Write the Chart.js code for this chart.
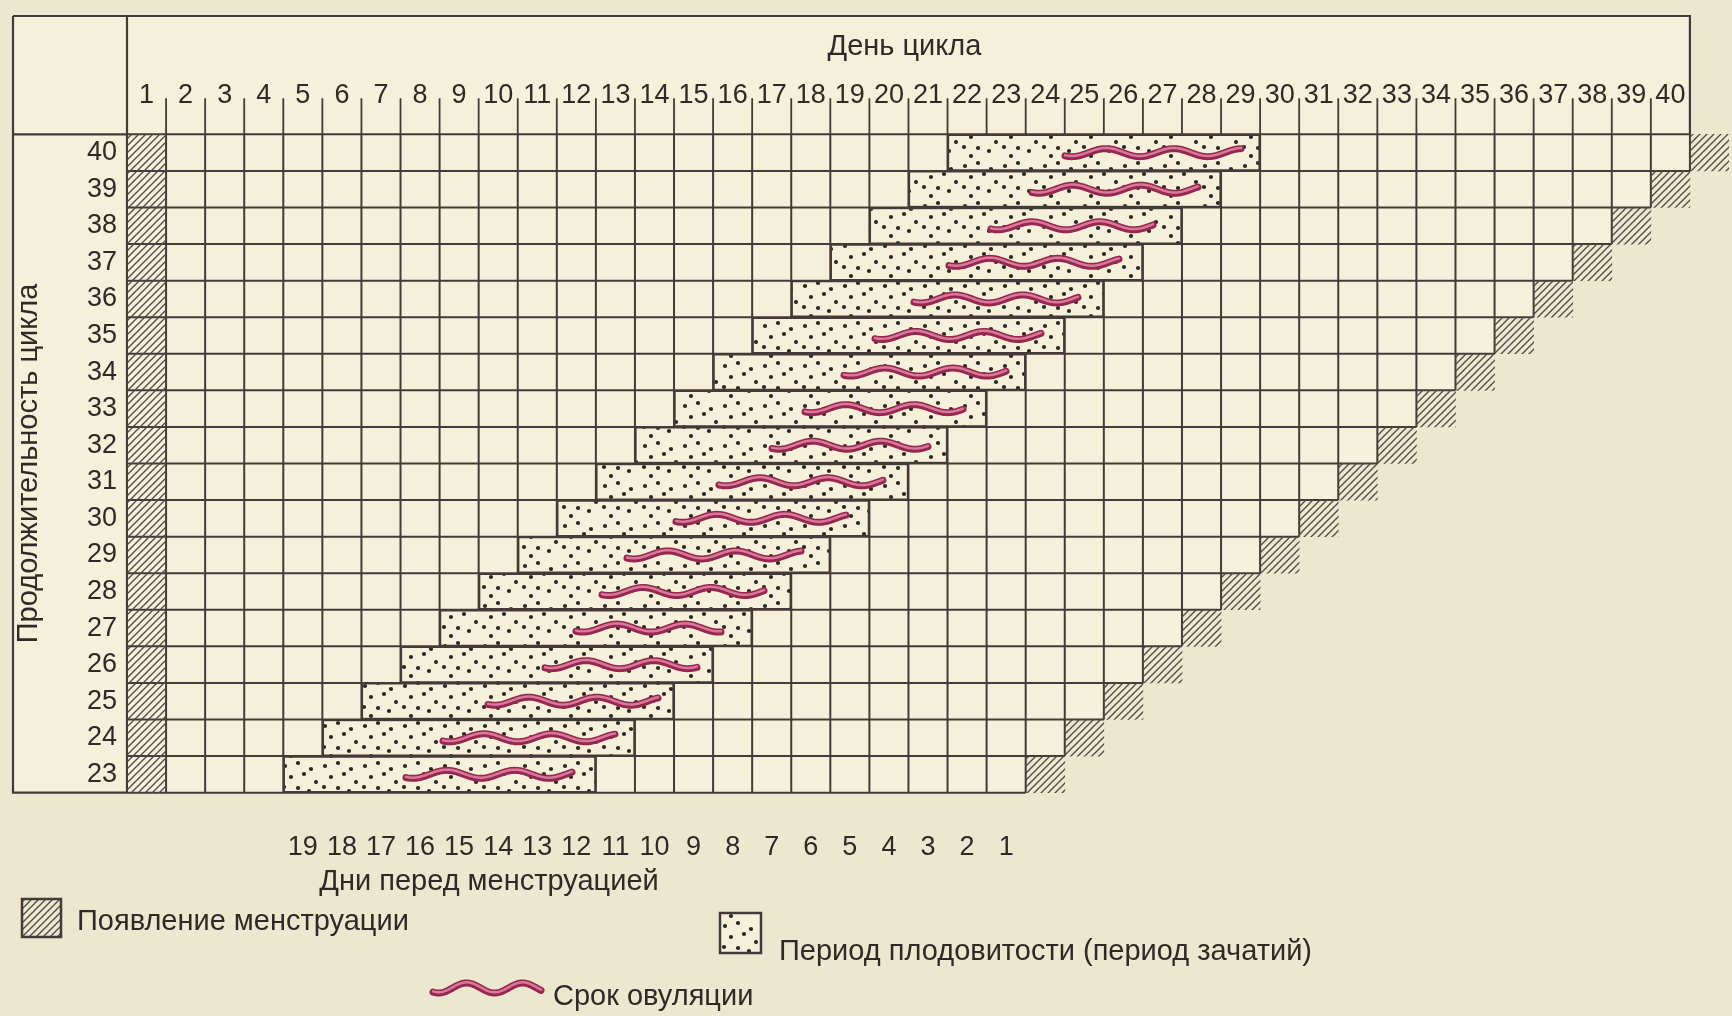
<!DOCTYPE html>
<html>
<head>
<meta charset="utf-8">
<script src="https://cdn.jsdelivr.net/npm/chart.js@4.4.1/dist/chart.umd.min.js"></script>
<style>
  html, body { margin: 0; padding: 0; background: #ece8cf; }
  canvas { display: block; }
</style>
</head>
<body>
<canvas id="chart" width="1732" height="1016"></canvas>
<script>
// rows: cycle length, bottom to top
const cycleLengths = [23, 24, 25, 26, 27, 28, 29, 30, 31, 32, 33, 34, 35, 36, 37, 38, 39, 40];
// header: day of cycle
const cycleDays = [1, 2, 3, 4, 5, 6, 7, 8, 9, 10, 11, 12, 13, 14, 15, 16, 17, 18, 19, 20,
                   21, 22, 23, 24, 25, 26, 27, 28, 29, 30, 31, 32, 33, 34, 35, 36, 37, 38, 39, 40];
// fertile period (first / last day of the dotted block), per row
const fertileStart = [5, 6, 7, 8, 9, 10, 11, 12, 13, 14, 15, 16, 17, 18, 19, 20, 21, 22];
const fertileEnd = [12, 13, 14, 15, 16, 17, 18, 19, 20, 21, 22, 23, 24, 25, 26, 27, 28, 29];
// ovulation wave (day units, day centre = integer)
const ovulationStart = [7.65, 8.6, 9.75, 11.2, 12.0, 12.65, 13.3, 14.55, 15.65, 17.0, 17.85, 18.85, 19.65, 20.65, 21.55, 22.6, 23.65, 24.5];
const ovulationEnd = [11.9, 13.0, 14.1, 15.1, 15.7, 16.8, 17.75, 18.9, 19.85, 21.0, 21.9, 23.0, 23.9, 24.85, 25.9, 26.75, 27.9, 29.0];
// menstruation: day 1 and the day after the cycle ends
const firstDay = [1, 1, 1, 1, 1, 1, 1, 1, 1, 1, 1, 1, 1, 1, 1, 1, 1, 1];
const nextPeriodDay = [24, 25, 26, 27, 28, 29, 30, 31, 32, 33, 34, 35, 36, 37, 38, 39, 40, 41];
// bottom axis: days before menstruation, under these columns
const daysBefore = [19, 18, 17, 16, 15, 14, 13, 12, 11, 10, 9, 8, 7, 6, 5, 4, 3, 2, 1];
const daysBeforeColumns = [5, 6, 7, 8, 9, 10, 11, 12, 13, 14, 15, 16, 17, 18, 19, 20, 21, 22, 23];

const INK = '#2f2927';
const LINE = '#45393a';
const PAPER = '#ece8cf';
const CELL = '#f4f0d9';
const FONT = '"Liberation Sans", Arial, sans-serif';

const canvas = document.getElementById('chart');
const ctx = canvas.getContext('2d');

function makeHatch() {
    const c = document.createElement('canvas');
    c.width = 7; c.height = 7;
    const g = c.getContext('2d');
    g.strokeStyle = '#4f4946';
    g.lineWidth = 1.3;
    g.beginPath();
    g.moveTo(0, 7); g.lineTo(7, 0);
    g.moveTo(-1, 1); g.lineTo(1, -1);
    g.moveTo(6, 8); g.lineTo(8, 6);
    g.stroke();
    return ctx.createPattern(c, 'repeat');
}

function makeDots() {
    const c = document.createElement('canvas');
    c.width = 40; c.height = 40;
    const g = c.getContext('2d');
    g.fillStyle = CELL;
    g.fillRect(0, 0, 40, 40);
    g.fillStyle = '#2b2624';
    const spots = [[5, 6], [18, 3], [31, 9], [11, 17], [24, 14], [36, 22], [4, 27], [18, 28], [29, 31], [11, 36]];
    spots.forEach(([x, y]) => {
        g.beginPath();
        g.arc(x, y, 2.1, 0, Math.PI * 2);
        g.fill();
    });
    return ctx.createPattern(c, 'repeat');
}

const hatch = makeHatch();
const dots = makeDots();

function wavePath(g, x0, x1, yc, amp, len) {
    g.beginPath();
    for (let x = x0; x <= x1; x += 1) {
        const y = yc + amp * Math.sin((x - x0) / len * Math.PI * 2 + Math.PI * 0.3);
        if (x === x0) g.moveTo(x, y); else g.lineTo(x, y);
    }
}

function drawWave(g, x0, x1, yc, amp, len) {
    g.save();
    g.lineCap = 'round';
    g.lineJoin = 'round';
    wavePath(g, x0, x1, yc, amp, len);
    g.strokeStyle = '#96284f';
    g.lineWidth = 7;
    g.stroke();
    wavePath(g, x0, x1, yc - 0.7, amp, len);
    g.strokeStyle = '#d9789a';
    g.lineWidth = 2.5;
    g.stroke();
    g.restore();
}

const tableArt = {
    id: 'tableArt',
    beforeDraw(chart) {
        const g = chart.ctx;
        const { x, y } = chart.scales;
        g.save();
        g.fillStyle = PAPER;
        g.fillRect(0, 0, chart.width, chart.height);

        const left = 13, top = 16;
        const colL = x.getPixelForValue(0.5);
        const colR = x.getPixelForValue(40.5);
        const gridTop = y.getPixelForValue(40.5);
        const gridBot = y.getPixelForValue(22.5);
        g.fillStyle = CELL;
        g.fillRect(left, top, colR - left, gridTop - top);
        g.fillRect(left, top, colL - left, gridBot - top);

        g.strokeStyle = LINE;
        g.lineWidth = 2.2;
        g.beginPath();
        g.moveTo(left, top); g.lineTo(colR, top); g.lineTo(colR, gridTop);
        g.moveTo(left, top); g.lineTo(left, gridBot); g.lineTo(colL, gridBot);
        g.moveTo(colL, top); g.lineTo(colL, gridBot);
        g.moveTo(left, gridTop); g.lineTo(colL, gridTop);
        g.stroke();

        // separators between the day numbers in the header
        g.lineWidth = 1.8;
        g.beginPath();
        cycleDays.slice(0, -1).forEach(d => {
            const px = x.getPixelForValue(d + 0.5);
            g.moveTo(px, gridTop - 36);
            g.lineTo(px, gridTop);
        });
        g.stroke();
        g.restore();
    },
    afterDatasetDraw(chart, args) {
        const g = chart.ctx;
        const { x, y } = chart.scales;
        if (args.index === 0) {
            // cell grid of every row
            g.save();
            g.strokeStyle = LINE;
            g.lineWidth = 2;
            g.beginPath();
            cycleLengths.forEach(L => {
                const yt = y.getPixelForValue(L + 0.5);
                const yb = y.getPixelForValue(L - 0.5);
                const xr = x.getPixelForValue(L + 0.5);
                g.moveTo(x.getPixelForValue(0.5), yt); g.lineTo(xr, yt);
                g.moveTo(x.getPixelForValue(0.5), yb); g.lineTo(xr, yb);
                for (let d = 0; d <= L; d++) {
                    const px = x.getPixelForValue(d + 0.5);
                    g.moveTo(px, yt); g.lineTo(px, yb);
                }
            });
            g.stroke();
            g.restore();
        }
        if (args.index === 4) {
            args.meta.data.forEach(el => {
                const x0 = Math.min(el.x, el.base);
                const x1 = Math.max(el.x, el.base);
                drawWave(g, Math.round(x0), Math.round(x1), el.y, 4, 68);
            });
        }
    },
    afterDraw(chart) {
        const g = chart.ctx;
        const { x } = chart.scales;
        g.save();
        g.fillStyle = INK;
        g.font = '29px ' + FONT;
        g.textBaseline = 'middle';
        g.textAlign = 'center';
        g.fillText('День цикла', x.getPixelForValue(20.5) - 4, 47);
        g.fillText('Дни перед менструацией', 489, 882);

        // legend
        g.textAlign = 'left';
        g.lineWidth = 2.5;
        g.strokeStyle = LINE;
        g.fillStyle = PAPER;
        g.fillRect(22, 899, 39, 38);
        g.fillStyle = hatch;
        g.fillRect(22, 899, 39, 38);
        g.strokeRect(22, 899, 39, 38);
        g.fillStyle = dots;
        g.fillRect(720, 913, 41, 40);
        g.strokeRect(720, 913, 41, 40);
        drawWave(g, 433, 541, 988, 5, 56);

        g.fillStyle = INK;
        g.fillText('Появление менструации', 77, 922);
        g.fillText('Период плодовитости (период зачатий)', 779, 952);
        g.fillText('Срок овуляции', 553, 997);
        g.restore();
    }
};

const tickFont = { family: FONT, size: 27 };

new Chart(ctx, {
    type: 'bar',
    data: {
        datasets: [
            {
                label: 'rows',
                data: cycleLengths.map(L => ({ x: [0.5, L + 0.5], y: L })),
                backgroundColor: CELL,
                borderWidth: 0,
                order: 5
            },
            {
                label: 'Появление менструации',
                data: cycleLengths.map((L, i) => ({ x: [firstDay[i] - 0.5, firstDay[i] + 0.5], y: L })),
                backgroundColor: hatch,
                borderWidth: 0,
                order: 4
            },
            {
                label: 'Появление менструации',
                data: cycleLengths.map((L, i) => ({ x: [nextPeriodDay[i] - 0.5, nextPeriodDay[i] + 0.5], y: L })),
                backgroundColor: hatch,
                borderWidth: 0,
                order: 3
            },
            {
                label: 'Период плодовитости (период зачатий)',
                data: cycleLengths.map((L, i) => ({ x: [fertileStart[i] - 0.5, fertileEnd[i] + 0.5], y: L })),
                backgroundColor: dots,
                borderColor: LINE,
                borderWidth: 2,
                borderSkipped: false,
                order: 2
            },
            {
                label: 'Срок овуляции',
                data: cycleLengths.map((L, i) => ({ x: [ovulationStart[i], ovulationEnd[i]], y: L })),
                backgroundColor: 'rgba(0,0,0,0)',
                borderWidth: 0,
                order: 1
            }
        ]
    },
    options: {
        indexAxis: 'y',
        responsive: false,
        animation: false,
        devicePixelRatio: 1,
        layout: { padding: { left: 0, right: 3, top: 0, bottom: 0 } },
        datasets: {
            bar: { grouped: false, categoryPercentage: 1, barPercentage: 1 }
        },
        plugins: {
            legend: { display: false },
            tooltip: { enabled: false }
        },
        scales: {
            x: {
                type: 'linear',
                position: 'top',
                min: 0.5,
                max: 41.5,
                afterBuildTicks: axis => { axis.ticks = cycleDays.map(v => ({ value: v })); },
                afterFit: axis => { axis.height = 115; },
                grid: { display: false, drawTicks: false },
                border: { display: false },
                ticks: { autoSkip: false, maxRotation: 0, padding: 3, color: INK, font: tickFont }
            },
            x2: {
                type: 'linear',
                position: 'bottom',
                min: 0.5,
                max: 41.5,
                afterBuildTicks: axis => { axis.ticks = daysBeforeColumns.map(v => ({ value: v })); },
                afterFit: axis => { axis.height = 204; },
                grid: { display: false, drawTicks: false },
                border: { display: false },
                ticks: {
                    autoSkip: false, maxRotation: 0, padding: 19, color: INK, font: tickFont,
                    callback: v => daysBefore[daysBeforeColumns.indexOf(v)]
                }
            },
            y: {
                type: 'linear',
                min: 22.5,
                max: 40.5,
                afterBuildTicks: axis => { axis.ticks = cycleLengths.map(v => ({ value: v })); },
                afterFit: axis => { axis.width = 127; },
                grid: { display: false, drawTicks: false },
                border: { display: false },
                ticks: { autoSkip: false, padding: 10, color: INK, font: tickFont },
                title: {
                    display: true,
                    text: 'Продолжительность цикла',
                    color: INK,
                    font: { family: FONT, size: 29 },
                    padding: { top: 12, bottom: 0 }
                }
            }
        }
    },
    plugins: [tableArt]
});
</script>
</body>
</html>
